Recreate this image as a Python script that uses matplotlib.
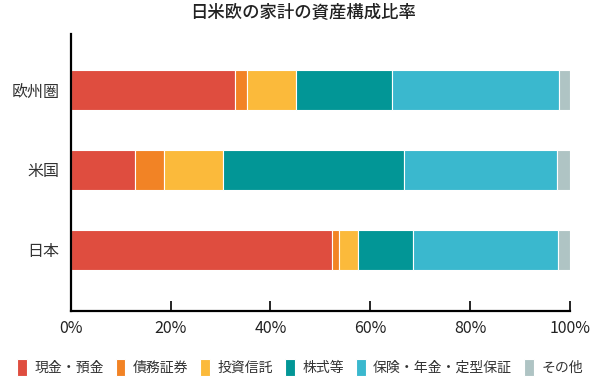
import numpy as np
import matplotlib
matplotlib.use('Agg')
from matplotlib import pyplot as plt

plt.rcParams['font.family'] = ['Noto Sans CJK JP', 'DejaVu Sans']

# data (% of household financial assets)
regions = ['日本', '米国', '欧州圏']
categories = ['現金・預金', '債務証券', '投資信託', '株式等', '保険・年金・定型保証', 'その他']
japan = [52.4, 1.4, 3.8, 11.0, 28.9, 2.5]
usa = [12.9, 5.7, 11.9, 36.3, 30.5, 2.7]
europe = [32.9, 2.4, 9.8, 19.2, 33.5, 2.2]
colors = ['#DF4D3F', '#F28325', '#FBBA3B', '#029696', '#3AB8CE', '#AFC4C4']

shares = np.array([japan, usa, europe])

fig = plt.figure(figsize=(6, 3.8), dpi=100)
ax = fig.add_axes([0.118, 0.1824, 0.832, 0.728])

y = np.arange(len(regions))
left = np.zeros(len(regions))
for i, cat in enumerate(categories):
    ax.barh(y, shares[:, i], left=left, height=0.5, color=colors[i],
            edgecolor='white', linewidth=0.8, label=cat)
    left += shares[:, i]

ax.set_xlim(0, 100)
ax.set_ylim(-0.76, 2.7)
ax.set_yticks(y)
ax.set_yticklabels(regions, fontsize=11.5, color='#333333')
ax.set_xticks(np.arange(0, 101, 20))
ax.set_xticklabels(['{}%'.format(v) for v in range(0, 101, 20)], fontsize=11.5, color='#222222')

ax.spines['top'].set_visible(False)
ax.spines['right'].set_visible(False)
ax.spines['left'].set_linewidth(1.6)
ax.spines['bottom'].set_linewidth(1.6)
ax.tick_params(axis='x', direction='in', length=7, width=1.2, pad=7)
ax.tick_params(axis='y', length=0, pad=8)

fig.text(0.505, 0.965, '日米欧の家計の資産構成比率', ha='center', va='center',
         fontsize=12.5, color='#222222', fontweight='medium')

fig.legend(loc='center', bbox_to_anchor=(0.5, 0.033), ncol=6, frameon=False,
           fontsize=10, handlelength=0.7, handleheight=1.45, handletextpad=0.55,
           columnspacing=0.85, labelcolor='#333333')

fig.savefig('out.png', dpi=100)
